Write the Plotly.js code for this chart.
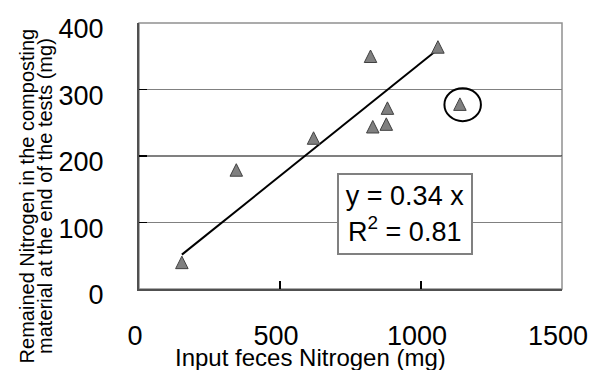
<!DOCTYPE html>
<html>
<head>
<meta charset="utf-8">
<script src="https://cdn.plot.ly/plotly-3.0.1.min.js"></script>
<style>html,body{margin:0;padding:0;background:#fff;}#chart{width:597px;height:370px;}</style>
</head>
<body>
<div id="chart"></div>
<script>
// Data
var inputN = [152, 345, 619, 821, 829, 877, 881, 1060, 1138];
var remainedN = [40, 179, 227, 350, 244, 248, 272, 364, 278];
var outlierIndex = 8;            // circled point, left out of the fit
var trendSlope = 0.34;           // y = 0.34 x
var rSquared = 0.81;
var xTickVals = [0, 500, 1000, 1500];
var yTickVals = [0, 100, 200, 300, 400];
var xTitle = 'Input feces Nitrogen (mg)';
var yTitleLine1 = 'Remained Nitrogen in the composting';
var yTitleLine2 = 'material at the end of the tests (mg)';

var fitX = inputN.filter(function (v, i) { return i !== outlierIndex; });
var trendX = [Math.min.apply(null, fitX), Math.max.apply(null, fitX)];
var trendY = trendX.map(function (v) { return trendSlope * v; });

var FONT = 'Liberation Sans, Arial, sans-serif';

var traces = [
  {
    x: trendX, y: trendY, type: 'scatter', mode: 'lines',
    line: {color: '#000000', width: 2}, hoverinfo: 'skip', showlegend: false
  },
  {
    x: inputN, y: remainedN, type: 'scatter', mode: 'markers',
    marker: {symbol: 'arrow-down', size: 12.5, standoff: 6.25, angle: 180,
             color: '#808080', line: {color: '#404040', width: 1}},
    showlegend: false
  }
];

var layout = {
  width: 597, height: 370,
  margin: {l: 139, r: 35, t: 23, b: 81, pad: 0},
  paper_bgcolor: '#ffffff', plot_bgcolor: '#ffffff',
  font: {family: FONT, color: '#000000'},
  showlegend: false,
  xaxis: {
    range: [0, 1500], tickvals: xTickVals, ticktext: xTickVals.map(String),
    ticks: 'inside', ticklen: 8, tickwidth: 1.5, tickcolor: '#000000',
    showgrid: false, zeroline: false,
    showline: true, linecolor: '#505050', linewidth: 2,
    tickfont: {family: FONT, size: 27, color: '#000000'},
    ticklabelstandoff: 22, ticklabelshift: -4, fixedrange: true
  },
  yaxis: {
    range: [0, 400], tickvals: yTickVals, ticktext: yTickVals.map(String),
    ticks: 'inside', ticklen: 8, tickwidth: 1.5, tickcolor: '#000000',
    showgrid: true, gridcolor: '#808080', gridwidth: 1, zeroline: false,
    showline: true, linecolor: '#505050', linewidth: 2,
    tickfont: {family: FONT, size: 27, color: '#000000'},
    ticklabelstandoff: 28, ticklabelshift: 6, fixedrange: true
  },
  shapes: [
    {type: 'rect', xref: 'paper', yref: 'paper', x0: 0, x1: 1, y0: 0, y1: 1,
     line: {color: '#909090', width: 1.5}, layer: 'below'},
    {type: 'line', xref: 'paper', yref: 'y', x0: 0, x1: 1, y0: yTickVals[2], y1: yTickVals[2],
     line: {color: '#000000', width: 1}, layer: 'below'},
    {type: 'circle', xref: 'x', yref: 'y', xsizemode: 'pixel', ysizemode: 'pixel',
     xanchor: inputN[outlierIndex], yanchor: remainedN[outlierIndex],
     x0: -15.5, x1: 21, y0: -17, y1: 16,
     line: {color: '#000000', width: 2}}
  ],
  annotations: [
    {xref: 'paper', yref: 'paper', x: 0.6277, y: 0.282, xanchor: 'center', yanchor: 'middle',
     text: 'y = ' + trendSlope.toFixed(2) + ' x<br>R<sup>2</sup> = ' + rSquared.toFixed(2),
     showarrow: false, align: 'center', valign: 'middle',
     font: {family: FONT, size: 27, color: '#000000'},
     width: 130, height: 76, borderpad: 1, borderwidth: 2,
     bordercolor: '#808080', bgcolor: '#ffffff'},
    {xref: 'paper', yref: 'paper', x: 0.4066, y: -0.259, xanchor: 'center', yanchor: 'middle',
     text: xTitle, showarrow: false, font: {family: FONT, size: 24, color: '#000000'}},
    {xref: 'paper', yref: 'paper', x: -0.266, y: 0.35, xanchor: 'center', yanchor: 'middle',
     text: yTitleLine1, textangle: -90, showarrow: false,
     font: {family: FONT, size: 20, color: '#000000'}},
    {xref: 'paper', yref: 'paper', x: -0.2222, y: 0.35, xanchor: 'center', yanchor: 'middle',
     text: yTitleLine2, textangle: -90, showarrow: false,
     font: {family: FONT, size: 20, color: '#000000'}}
  ]
};

Plotly.newPlot('chart', traces, layout, {displayModeBar: false, staticPlot: true});
</script>
</body>
</html>
